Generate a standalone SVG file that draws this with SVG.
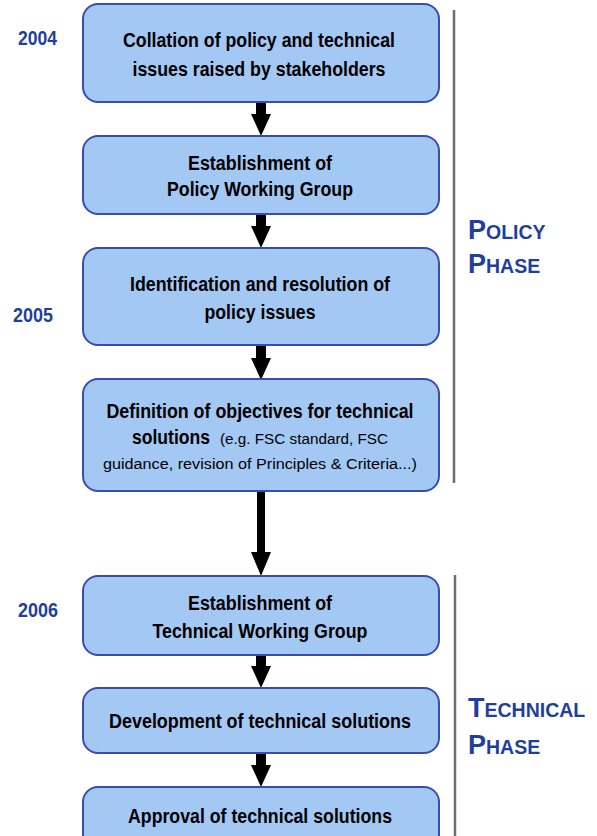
<svg xmlns="http://www.w3.org/2000/svg" width="597" height="836" viewBox="0 0 597 836">
<style>
.box{fill:#A3C8F4;stroke:#3B4CB0;stroke-width:2}
.t{font-family:"Liberation Sans",Arial,sans-serif;font-weight:bold;font-size:19.5px;fill:#000;text-anchor:middle}
.s{font-family:"Liberation Sans",Arial,sans-serif;font-size:14px;fill:#000}
.yr{font-family:"Liberation Sans",Arial,sans-serif;font-weight:bold;font-size:20px;fill:#1F3F9C}
.ph{font-family:"Liberation Sans",Arial,sans-serif;font-weight:bold;fill:#1F3F9C}
.big{font-size:27px}
.sm{font-size:19.5px}
.arr{fill:#000}
.sep{stroke:#6E6E6E;stroke-width:2.5}
</style>
<rect width="597" height="836" fill="#fff"/>
<g id="years">
<text class="yr" x="18" y="45" textLength="39" lengthAdjust="spacingAndGlyphs">2004</text>
<text class="yr" x="13" y="322" textLength="40" lengthAdjust="spacingAndGlyphs">2005</text>
<text class="yr" x="18" y="617" textLength="40" lengthAdjust="spacingAndGlyphs">2006</text>
</g>
<g id="phases">
<line class="sep" x1="454" y1="10" x2="454" y2="483"/>
<line class="sep" x1="455" y1="575" x2="455" y2="836"/>
<text class="ph" x="468" y="239"><tspan class="big">P</tspan><tspan class="sm">OLICY</tspan></text>
<text class="ph" x="468" y="273"><tspan class="big">P</tspan><tspan class="sm">HASE</tspan></text>
<text class="ph" x="468" y="717"><tspan class="big">T</tspan><tspan class="sm">ECHNICAL</tspan></text>
<text class="ph" x="468" y="754"><tspan class="big">P</tspan><tspan class="sm">HASE</tspan></text>
</g>
<g id="connectors">
<path class="arr" d="M256,103 H266 V114 H271 L261,136 L251,114 H256 Z"/>
<path class="arr" d="M256,215 H266 V226 H271 L261,248 L251,226 H256 Z"/>
<path class="arr" d="M256,346 H266 V358 H271 L261,380 L251,358 H256 Z"/>
<path class="arr" d="M257,492 H265 V552 H271 L261,576 L251,552 H257 Z"/>
<path class="arr" d="M256,656 H266 V666 H271 L261,688 L251,666 H256 Z"/>
<path class="arr" d="M256,754 H266 V765 H271 L261,787 L251,765 H256 Z"/>
</g>
<g id="n1">
<rect class="box" x="83" y="4" width="356" height="98" rx="15"/>
<text class="t" x="259" y="47" textLength="272" lengthAdjust="spacingAndGlyphs">Collation of policy and technical</text>
<text class="t" x="259" y="76" textLength="253" lengthAdjust="spacingAndGlyphs">issues raised by stakeholders</text>
</g>
<g id="n2">
<rect class="box" x="83" y="136" width="356" height="78" rx="15"/>
<text class="t" x="260" y="170" textLength="144" lengthAdjust="spacingAndGlyphs">Establishment of</text>
<text class="t" x="260" y="196" textLength="186" lengthAdjust="spacingAndGlyphs">Policy Working Group</text>
</g>
<g id="n3">
<rect class="box" x="83" y="248" width="356" height="97" rx="15"/>
<text class="t" x="260" y="291" textLength="260" lengthAdjust="spacingAndGlyphs">Identification and resolution of</text>
<text class="t" x="260" y="319" textLength="111" lengthAdjust="spacingAndGlyphs">policy issues</text>
</g>
<g id="n4">
<rect class="box" x="83" y="379" width="356" height="112" rx="15"/>
<text class="t" x="260" y="418" textLength="307" lengthAdjust="spacingAndGlyphs">Definition of objectives for technical</text>
<text class="t" x="132" y="444" style="text-anchor:start" textLength="78" lengthAdjust="spacingAndGlyphs">solutions</text>
<text class="s" x="220" y="444" textLength="168" lengthAdjust="spacingAndGlyphs">(e.g. FSC standard, FSC</text>
<text class="s" x="103" y="469" textLength="314" lengthAdjust="spacingAndGlyphs">guidance, revision of Principles &amp; Criteria...)</text>
</g>
<g id="n5">
<rect class="box" x="83" y="576" width="356" height="79" rx="15"/>
<text class="t" x="260" y="610" textLength="144" lengthAdjust="spacingAndGlyphs">Establishment of</text>
<text class="t" x="260" y="638" textLength="215" lengthAdjust="spacingAndGlyphs">Technical Working Group</text>
</g>
<g id="n6">
<rect class="box" x="83" y="688" width="356" height="65" rx="15"/>
<text class="t" x="260" y="728" textLength="302" lengthAdjust="spacingAndGlyphs">Development of technical solutions</text>
</g>
<g id="n7">
<rect class="box" x="83" y="787" width="356" height="80" rx="15"/>
<text class="t" x="260" y="823" textLength="264" lengthAdjust="spacingAndGlyphs">Approval of technical solutions</text>
</g>
</svg>
